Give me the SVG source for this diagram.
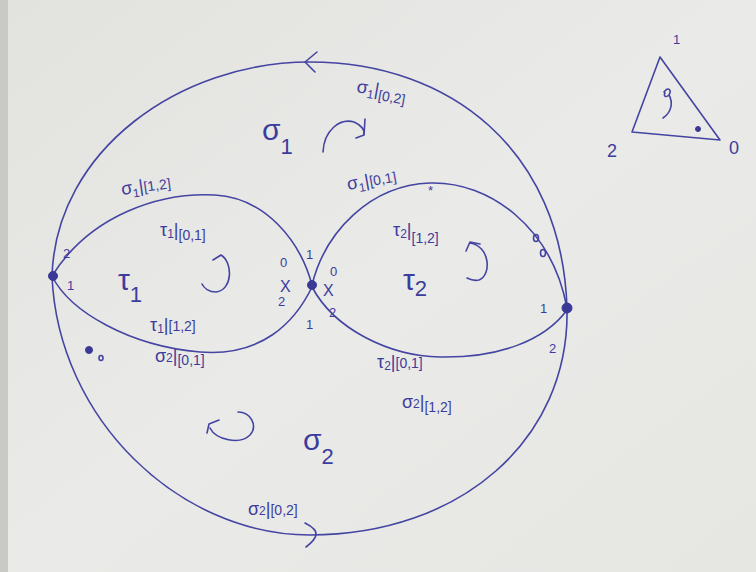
<svg xmlns="http://www.w3.org/2000/svg" width="756" height="572" viewBox="0 0 756 572">
  <defs>
    <linearGradient id="paper" x1="0" y1="0" x2="1" y2="1">
      <stop offset="0" stop-color="#e2e2df"/>
      <stop offset="0.5" stop-color="#eaeae8"/>
      <stop offset="1" stop-color="#e6e6e3"/>
    </linearGradient>
    <style>
      .ink { fill: none; stroke: #4444a2; stroke-width: 1.6; stroke-linecap: round; stroke-linejoin: round; }
      .dot { fill: #3a3a96; stroke: #3a3a96; stroke-width: 1; }
      text { font-family: "Liberation Sans", "DejaVu Sans", sans-serif; fill: #3c3c9c; }
      .lbl { font-size: 18px; }
      .sub { font-size: 12px; }
      .iv { font-size: 14px; }
      .big { font-size: 30px; }
      .bigsub { font-size: 22px; }
      .tiny { font-size: 13px; }
      .mark { font-size: 16px; }
    </style>
  </defs>

  <!-- paper -->
  <rect width="756" height="572" fill="url(#paper)"/>
  <rect x="0" y="0" width="8" height="572" fill="#c9c9c6"/>

  <!-- connectors: outer loop, two lenses, direction ticks -->
  <g id="connectors">
    <path class="ink" d="M52,276 C56,150 180,62 310,62 C450,62 562,150 567,308"/>
    <path class="ink" d="M52,276 C58,420 180,535 310,535 C460,535 570,440 567,308"/>
    <path class="ink" d="M52,276 C90,215 160,192 215,195 C265,198 300,240 312,285"/>
    <path class="ink" d="M52,276 C70,312 130,346 200,352 C262,357 295,322 312,287"/>
    <path class="ink" d="M312,285 C325,232 370,185 430,183 C490,181 552,228 567,308"/>
    <path class="ink" d="M312,287 C335,330 390,356 440,357 C500,358 545,340 567,310"/>
    <!-- orientation marks on the outer loop -->
    <path class="ink" d="M317,52 L305,62 L315,72"/>
    <path class="ink" d="M305,523 C313,527 317,531 316,535 C315,540 310,544 306,547"/>
  </g>

  <!-- vertices -->
  <g id="node-left">
    <circle class="dot" cx="53" cy="276" r="4.5"/>
    <text class="tiny" x="63" y="258">2</text>
    <text class="tiny" x="67" y="290">1</text>
  </g>
  <g id="node-mid">
    <circle class="dot" cx="312" cy="285" r="4.5"/>
    <text class="tiny" x="306" y="259">1</text>
    <text class="tiny" x="306" y="329">1</text>
    <text class="tiny" x="280" y="267">0</text>
    <text class="mark" x="280" y="292">X</text>
    <text class="tiny" x="278" y="306">2</text>
    <text class="tiny" x="330" y="276">0</text>
    <text class="mark" x="323" y="296">X</text>
    <text class="tiny" x="329" y="317">2</text>
  </g>
  <g id="node-right">
    <circle class="dot" cx="567" cy="308" r="5"/>
    <text class="tiny" x="540" y="313">1</text>
    <text class="tiny" x="549" y="353">2</text>
    <ellipse class="ink" cx="536" cy="238" rx="2.5" ry="3.5"/>
    <ellipse class="ink" cx="543" cy="253" rx="2.5" ry="3.5"/>
  </g>
  <g id="left-marks">
    <circle class="dot" cx="89" cy="350" r="3.5"/>
    <ellipse class="ink" cx="101" cy="358" rx="2" ry="2.5"/>
  </g>

  <!-- face sigma1 (outer upper region) -->
  <g id="face-sigma1">
    <text class="big" x="262" y="140">σ<tspan class="bigsub" dy="14">1</tspan></text>
    <path class="ink" d="M323,152 C324,130 340,118 354,122 C361,125 365,130 364,134"/>
    <path class="ink" d="M356,138 L364,135 L365,119"/>
    <text class="lbl" transform="rotate(10 356 92)" x="356" y="92">σ<tspan class="sub" dy="4">1</tspan><tspan dy="-4">|</tspan><tspan class="iv" dy="4">[0,2]</tspan></text>
    <text class="lbl" transform="rotate(-8 122 195)" x="122" y="195">σ<tspan class="sub" dy="4">1</tspan><tspan dy="-4">|</tspan><tspan class="iv" dy="0">[1,2]</tspan></text>
    <text class="lbl" transform="rotate(-10 348 190)" x="348" y="190">σ<tspan class="sub" dy="4">1</tspan><tspan dy="-4">|</tspan><tspan class="iv" dy="0">[0,1]</tspan></text>
    <text class="tiny" x="428" y="195">*</text>
  </g>

  <!-- face tau1 (left lens) -->
  <g id="face-tau1">
    <text class="big" x="118" y="290">τ<tspan class="bigsub" dy="12">1</tspan></text>
    <path class="ink" d="M213,260 L221,255 M221,255 C233,262 233,290 216,292 C209,292 204,288 202,284"/>
    <text class="lbl" x="160" y="236">τ<tspan class="sub" dy="2">1</tspan><tspan dy="-2">|</tspan><tspan class="iv" dy="4">[0,1]</tspan></text>
    <text class="lbl" x="150" y="331">τ<tspan class="sub" dy="2">1</tspan><tspan dy="-2">|</tspan><tspan class="iv" dy="0">[1,2]</tspan></text>
  </g>

  <!-- face tau2 (right lens) -->
  <g id="face-tau2">
    <text class="big" x="403" y="290">τ<tspan class="bigsub" dy="6">2</tspan></text>
    <path class="ink" d="M470,243 C490,246 492,275 479,280 C475,281 471,280 467,278"/>
    <path class="ink" d="M466,251 L470,242 L480,244"/>
    <text class="lbl" x="393" y="236">τ<tspan class="sub" dy="2">2</tspan><tspan dy="-2">|</tspan><tspan class="iv" dy="7">[1,2]</tspan></text>
    <text class="lbl" x="377" y="368">τ<tspan class="sub" dy="2">2</tspan><tspan dy="-2">|</tspan><tspan class="iv" dy="0">[0,1]</tspan></text>
  </g>

  <!-- face sigma2 (outer lower region) -->
  <g id="face-sigma2">
    <text class="big" x="303" y="450">σ<tspan class="bigsub" dy="14">2</tspan></text>
    <path class="ink" d="M238,412 C251,412 258,426 250,435 C240,445 216,440 210,428"/>
    <path class="ink" d="M207,433 L209,424 L219,420"/>
    <text class="lbl" x="155" y="362">σ<tspan class="sub" dy="0">2</tspan><tspan dy="0">|</tspan><tspan class="iv" dy="3">[0,1]</tspan></text>
    <text class="lbl" x="402" y="408">σ<tspan class="sub" dy="0">2</tspan><tspan dy="0">|</tspan><tspan class="iv" dy="4">[1,2]</tspan></text>
    <text class="lbl" x="248" y="515">σ<tspan class="sub" dy="0">2</tspan><tspan dy="0">|</tspan><tspan class="iv" dy="0">[0,2]</tspan></text>
  </g>

  <!-- reference simplex -->
  <g id="simplex">
    <path class="ink" d="M660,57 L632,132 L720,140 Z"/>
    <text class="tiny" x="673" y="44">1</text>
    <text class="lbl" x="607" y="157">2</text>
    <text class="lbl" x="729" y="154">0</text>
    <path class="ink" d="M664,92 C668,86 672,90 669,95 C666,98 663,96 665,93 M669,95 C673,102 672,112 663,118"/>
    <circle class="dot" cx="698" cy="129" r="2.5"/>
  </g>
</svg>
